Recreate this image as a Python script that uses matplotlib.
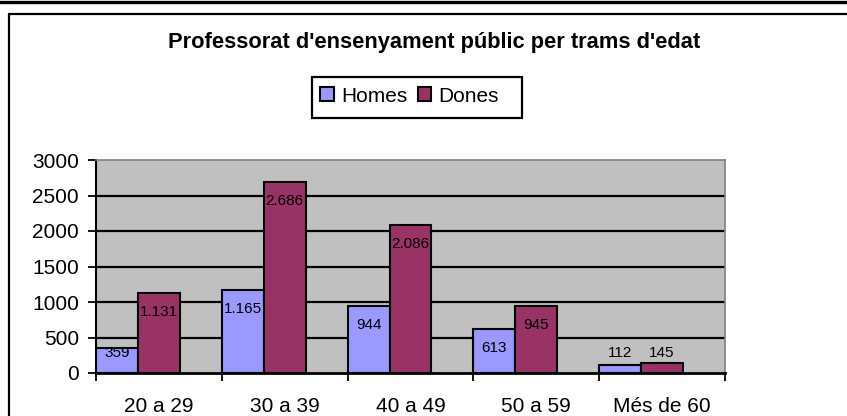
import numpy as np
import matplotlib
matplotlib.use("Agg")
import matplotlib.pyplot as plt
from matplotlib.lines import Line2D
from matplotlib.patches import Patch, Rectangle

plt.rcParams['font.family'] = ['Liberation Sans', 'DejaVu Sans']

categories = ["20 a 29", "30 a 39", "40 a 49", "50 a 59", "Més de 60"]
homes = [359, 1165, 944, 613, 112]
dones = [1131, 2686, 2086, 945, 145]
series_names = ["Homes", "Dones"]
title = "Professorat d'ensenyament públic per trams d'edat"
yticks = [0, 500, 1000, 1500, 2000, 2500, 3000]

W, H = 847, 416
fig = plt.figure(figsize=(W / 100, H / 100), dpi=100)

# pixel -> figure coords helpers
def fx(px):
    return px / W

def fy(py):
    return 1 - py / H

fig.add_artist(Line2D([0, 1], [fy(1.5), fy(1.5)], color='black', lw=2.4, transform=fig.transFigure))
fig.add_artist(Line2D([fx(9), fx(9), 1.0], [0, fy(14), fy(14)], color='black', lw=1.6,
                      transform=fig.transFigure))

left, right, top, bottom = 96, 725, 160, 373
ax = fig.add_axes([fx(left), fy(bottom), (right - left) / W, (bottom - top) / H])
ax.set_facecolor('#C0C0C0')

n = len(categories)
x = np.arange(n)
w = 1 / 3
ax.bar(x + w / 2, homes, width=w, color='#9999FF', edgecolor='black', linewidth=1.5, zorder=3)
ax.bar(x + 1.5 * w, dones, width=w, color='#993366', edgecolor='black', linewidth=1.5, zorder=3)

ax.set_xlim(0, n)
ax.set_ylim(yticks[0], yticks[-1])

# gridlines
for t in yticks[1:-1]:
    ax.axhline(t, color='black', lw=1.6, zorder=1)

# spines
for s in ['top', 'right']:
    ax.spines[s].set_color('#808080')
    ax.spines[s].set_linewidth(1.2)
ax.spines['left'].set_color('black')
ax.spines['left'].set_linewidth(1.5)
ax.spines['bottom'].set_color('black')
ax.spines['bottom'].set_linewidth(2.0)
ax.spines['bottom'].set_zorder(4)

ax.set_yticks(yticks)
ax.set_yticklabels([str(t) for t in yticks], fontsize=15)
ax.tick_params(axis='y', direction='out', length=5.8, width=1.3, pad=6.5, colors='black')

ax.set_xticks(x + 0.5)
ax.set_xticklabels(categories, fontsize=15)
ax.tick_params(axis='x', which='major', length=0, pad=17)
ax.set_xticks(np.arange(n + 1), minor=True)
ax.tick_params(axis='x', which='minor', direction='out', length=5.8, width=1.3)

# data labels
px_per_unit = (bottom - top) / (yticks[-1] - yticks[0])

def fmt(v):
    return f"{v:,}".replace(",", ".")

for xs, vals in ((x + w / 2, homes), (x + 1.5 * w, dones)):
    for xi, v in zip(xs, vals):
        yl = max(v - 19 / px_per_unit, 20 / px_per_unit)
        ax.text(xi, yl, fmt(v), ha='center', va='center', fontsize=11, color='black', zorder=5)

fig.text(fx(434), fy(48), title, ha='center', va='baseline', fontsize=15.75, fontweight='bold')

# legend: frame box drawn separately to match the reference's padding
fig.add_artist(Rectangle((fx(312), fy(118)), (522 - 312) / W, (118 - 77) / H,
                         transform=fig.transFigure, facecolor='white', edgecolor='black',
                         linewidth=1.6, zorder=2))
handles = [Patch(facecolor='#9999FF', edgecolor='black', linewidth=1.5),
           Patch(facecolor='#993366', edgecolor='black', linewidth=1.5)]
leg = fig.legend(handles, series_names, loc='center left', bbox_to_anchor=(fx(320), fy(96)),
                 ncol=2, fontsize=15, frameon=False,
                 handlelength=0.65, handleheight=0.65, handletextpad=0.35, columnspacing=0.5,
                 borderpad=0, borderaxespad=0)
leg.set_zorder(3)

fig.savefig("out.png", dpi=100)
